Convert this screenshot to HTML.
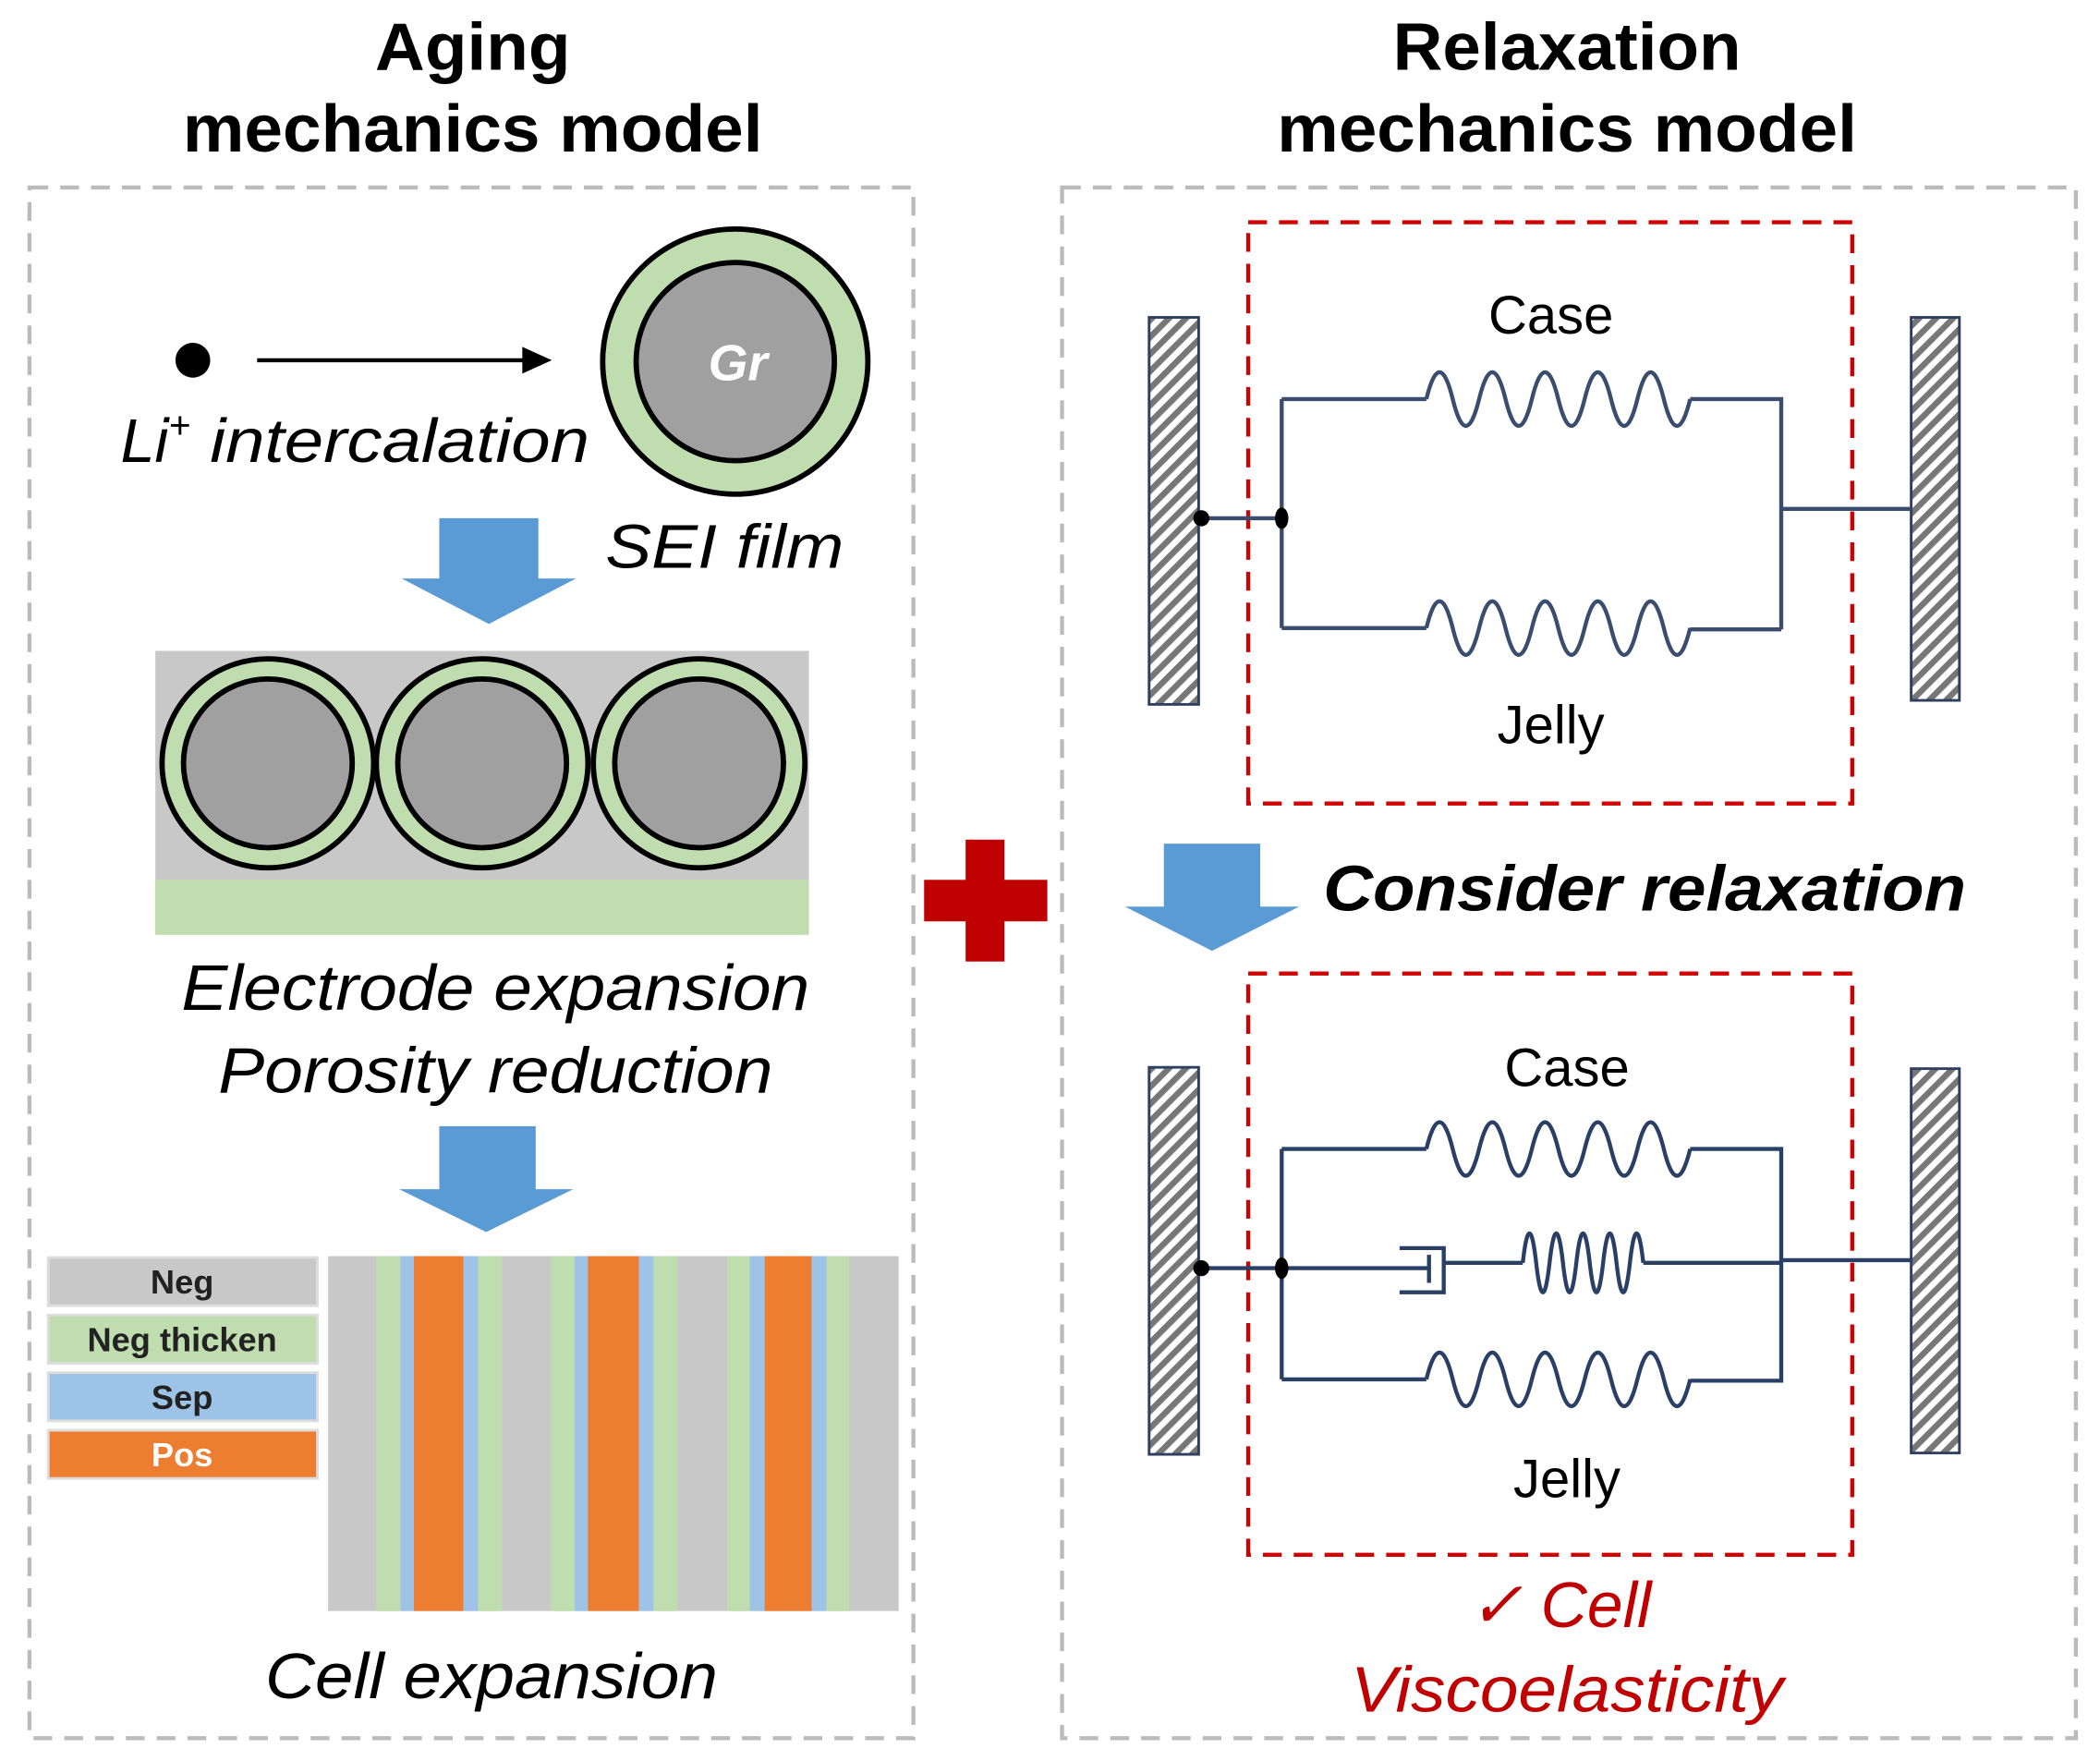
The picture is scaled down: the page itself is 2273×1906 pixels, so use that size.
<!DOCTYPE html>
<html><head><meta charset="utf-8"><style>
html,body{margin:0;padding:0;background:#fff}
svg{display:block}
text{font-family:"Liberation Sans",Arial,sans-serif}
</style></head><body>
<svg width="2273" height="1906" viewBox="0 0 1568 1315" preserveAspectRatio="none" xmlns="http://www.w3.org/2000/svg">
<defs>
<pattern id="h" width="9" height="9" patternUnits="userSpaceOnUse" patternTransform="rotate(-45)">
<rect width="9" height="9" fill="#fff"/><rect width="9" height="4.5" fill="#777"/>
</pattern>
</defs>
<g font-weight="bold" font-size="50" text-anchor="middle" fill="#000">
<text x="353" y="52" textLength="146" lengthAdjust="spacingAndGlyphs">Aging</text>
<text x="353" y="113" textLength="433" lengthAdjust="spacingAndGlyphs">mechanics model</text>
<text x="1170" y="52" textLength="260" lengthAdjust="spacingAndGlyphs">Relaxation</text>
<text x="1170" y="113" textLength="433" lengthAdjust="spacingAndGlyphs">mechanics model</text>
</g>
<rect x="22" y="140" width="660" height="1158" fill="none" stroke="#bbb" stroke-width="3" stroke-dasharray="14 9"/>
<rect x="793" y="140" width="757" height="1158" fill="none" stroke="#bbb" stroke-width="3" stroke-dasharray="14 9"/>
<circle cx="144" cy="269" r="13" fill="#000"/>
<line x1="192" y1="269" x2="395" y2="269" stroke="#000" stroke-width="3"/>
<path d="M390 259L412 269L390 279Z" fill="#000"/>
<circle cx="549" cy="270" r="99" fill="#c0ddb0" stroke="#000" stroke-width="4"/>
<circle cx="549" cy="270" r="74" fill="#a0a0a0" stroke="#000" stroke-width="4"/>
<text x="551" y="284" font-size="38" font-weight="bold" font-style="italic" fill="#fff" text-anchor="middle">Gr</text>
<g font-style="italic" font-size="46" fill="#000">
<text x="90" y="345">Li<tspan font-size="28" dy="-18">+</tspan><tspan dy="18" textLength="298" lengthAdjust="spacingAndGlyphs"> intercalation</tspan></text>
<text x="452" y="424" textLength="178" lengthAdjust="spacingAndGlyphs">SEI film</text>
</g>
<path d="M328 387H402V432H430L365 466L300 432H328Z" fill="#5b9bd5"/>
<rect x="116" y="486" width="488" height="212" fill="#c8c8c8"/>
<rect x="116" y="657" width="488" height="41" fill="#c0ddb0"/>
<g stroke="#000" stroke-width="4">
<ellipse cx="200" cy="570" rx="79" ry="78" fill="#c0ddb0"/>
<ellipse cx="360" cy="570" rx="79" ry="78" fill="#c0ddb0"/>
<ellipse cx="522" cy="570" rx="79" ry="78" fill="#c0ddb0"/>
<ellipse cx="200" cy="570" rx="63" ry="63" fill="#a0a0a0"/>
<ellipse cx="360" cy="570" rx="63" ry="63" fill="#a0a0a0"/>
<ellipse cx="522" cy="570" rx="63" ry="63" fill="#a0a0a0"/>
</g>
<g font-style="italic" font-size="48" fill="#000" text-anchor="middle">
<text x="370" y="754" textLength="469" lengthAdjust="spacingAndGlyphs">Electrode expansion</text>
<text x="370" y="816" textLength="414" lengthAdjust="spacingAndGlyphs">Porosity reduction</text>
<text x="367" y="1268" textLength="338" lengthAdjust="spacingAndGlyphs">Cell expansion</text>
</g>
<path d="M328 841H400V888H428L363 920L298 888H328Z" fill="#5b9bd5"/>
<rect x="36" y="939" width="201" height="36" fill="#c8c8c8" stroke="#ddd" stroke-width="2"/>
<rect x="36" y="982" width="201" height="36" fill="#c0ddb0" stroke="#ddd" stroke-width="2"/>
<rect x="36" y="1025" width="201" height="36" fill="#9dc3e6" stroke="#ddd" stroke-width="2"/>
<rect x="36" y="1068" width="201" height="36" fill="#ed7d31" stroke="#ddd" stroke-width="2"/>
<g font-weight="bold" font-size="25" text-anchor="middle">
<text x="136" y="966" fill="#222">Neg</text>
<text x="136" y="1009" fill="#222">Neg thicken</text>
<text x="136" y="1052" fill="#222">Sep</text>
<text x="136" y="1095" fill="#fff">Pos</text>
</g>
<rect x="245" y="938" width="426" height="265" fill="#c8c8c8"/>
<g>
<rect x="281" y="938" width="18" height="265" fill="#c0ddb0"/><rect x="299" y="938" width="10" height="265" fill="#9dc3e6"/><rect x="309" y="938" width="37" height="265" fill="#ed7d31"/><rect x="346" y="938" width="11" height="265" fill="#9dc3e6"/><rect x="357" y="938" width="18" height="265" fill="#c0ddb0"/>
<rect x="411" y="938" width="18" height="265" fill="#c0ddb0"/><rect x="429" y="938" width="10" height="265" fill="#9dc3e6"/><rect x="439" y="938" width="38" height="265" fill="#ed7d31"/><rect x="477" y="938" width="11" height="265" fill="#9dc3e6"/><rect x="488" y="938" width="18" height="265" fill="#c0ddb0"/>
<rect x="543" y="938" width="17" height="265" fill="#c0ddb0"/><rect x="560" y="938" width="11" height="265" fill="#9dc3e6"/><rect x="571" y="938" width="35" height="265" fill="#ed7d31"/><rect x="606" y="938" width="11" height="265" fill="#9dc3e6"/><rect x="617" y="938" width="17" height="265" fill="#c0ddb0"/>
</g>
<rect x="690" y="657" width="92" height="31" fill="#c00000"/>
<rect x="721" y="627" width="29" height="91" fill="#c00000"/>
<rect x="932" y="166" width="451" height="434" fill="none" stroke="#d00000" stroke-width="3" stroke-dasharray="14 9"/>
<rect x="932" y="727" width="451" height="434" fill="none" stroke="#d00000" stroke-width="3" stroke-dasharray="14 9"/>
<g stroke="#2f3f5f" stroke-width="2" fill="url(#h)">
<rect x="858" y="237" width="37" height="289"/>
<rect x="1427" y="237" width="36" height="286"/>
<rect x="858" y="797" width="37" height="289"/>
<rect x="1427" y="798" width="36" height="287"/>
</g>
<g fill="none" stroke="#3a4d6e" stroke-width="3">
<path d="M897 387H957M957 298V469M957 298H1065M1262 298H1330V470M1330 470H1262M1065 469H957M1330 380H1427"/>
<path d="M1065 298q9.85 -40 19.7 0t19.7 0t19.7 0t19.7 0t19.7 0t19.7 0t19.7 0t19.7 0t19.7 0t19.7 0" />
<path d="M1065 469q9.85 -40 19.7 0t19.7 0t19.7 0t19.7 0t19.7 0t19.7 0t19.7 0t19.7 0t19.7 0t19.7 0" />
</g>
<circle cx="897" cy="387" r="6" fill="#000"/><ellipse cx="957" cy="387" rx="5" ry="8" fill="#000"/>
<g font-size="40" text-anchor="middle" fill="#000">
<text x="1158" y="249">Case</text>
<text x="1158" y="555">Jelly</text>
<text x="1170" y="811">Case</text>
<text x="1170" y="1118">Jelly</text>
</g>
<path d="M869 630H941V677H970L905 710L840 677H869Z" fill="#5b9bd5"/>
<text x="988" y="680" font-size="48" font-weight="bold" font-style="italic" fill="#000" textLength="480" lengthAdjust="spacingAndGlyphs">Consider relaxation</text>
<g fill="none" stroke="#2a3f66" stroke-width="3">
<path d="M897 947H1067M957 858V1030M957 858H1065M1262 858H1330V1031H1262M1065 1030H957M1330 941H1427"/>
<path d="M1065 858q9.85 -40 19.7 0t19.7 0t19.7 0t19.7 0t19.7 0t19.7 0t19.7 0t19.7 0t19.7 0t19.7 0" />
<path d="M1065 1030q9.85 -40 19.7 0t19.7 0t19.7 0t19.7 0t19.7 0t19.7 0t19.7 0t19.7 0t19.7 0t19.7 0" />
<path d="M1045 932H1078V965H1045M1067 937V958M1078 943H1137"/>
<path d="M1137 943q5 -44 10 0t10 0t10 0t10 0t10 0t10 0t10 0t10 0t10 0M1227 943H1330"/>
</g>
<circle cx="897" cy="947" r="6" fill="#000"/><ellipse cx="957" cy="947" rx="5" ry="8" fill="#000"/>
<g font-style="italic" font-size="48" fill="#c00000" text-anchor="middle">
<text x="1165" y="1215">✓ Cell</text>
<text x="1170" y="1278" textLength="323" lengthAdjust="spacingAndGlyphs">Viscoelasticity</text>
</g>
</svg>
</body></html>
